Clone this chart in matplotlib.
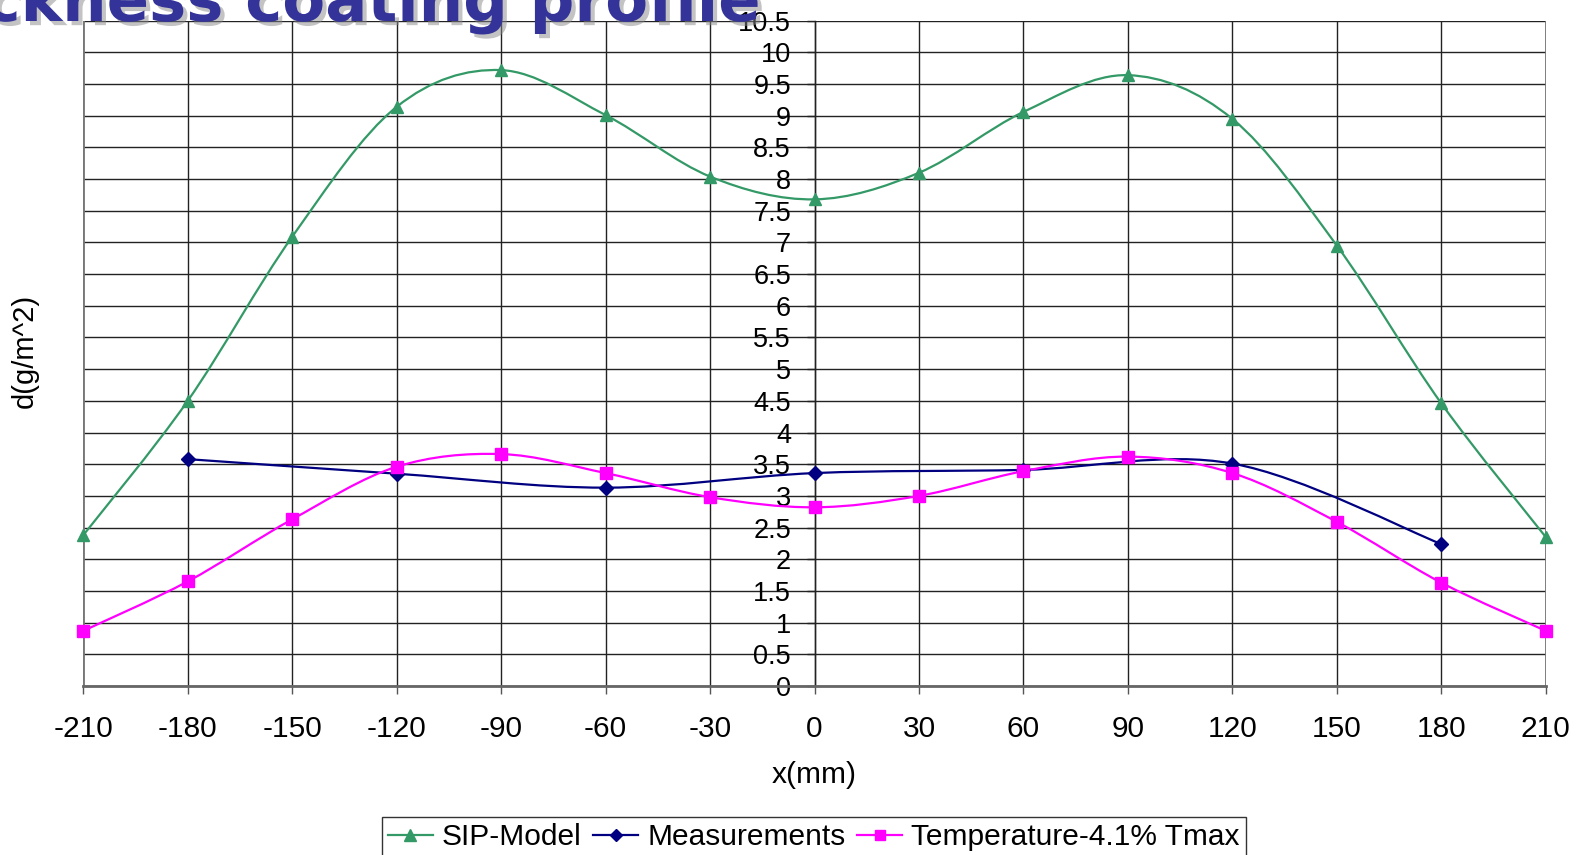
import matplotlib
matplotlib.use("Agg")
import matplotlib.pyplot as plt
import matplotlib.patheffects as pe
from matplotlib.path import Path
from matplotlib.patches import PathPatch
from matplotlib.lines import Line2D

plt.rcParams['font.family'] = ['Liberation Sans', 'DejaVu Sans']
plt.rcParams['axes.unicode_minus'] = False

# coating thickness along the strip, g/m^2
x_model = [-210, -180, -150, -120, -90, -60, -30, 0, 30, 60, 90, 120, 150, 180, 210]
sip_model = [2.38, 4.50, 7.09, 9.14, 9.72, 9.01, 8.04, 7.68, 8.10, 9.06, 9.64, 8.95, 6.95, 4.46, 2.35]

x_meas = [-180, -120, -60, 0, 60, 120, 180]
measurements = [3.58, 3.35, 3.13, 3.36, 3.41, 3.51, 2.24]

x_temp = [-210, -180, -150, -120, -90, -60, -30, 0, 30, 60, 90, 120, 150, 180, 210]
temperature = [0.87, 1.65, 2.63, 3.46, 3.66, 3.36, 2.98, 2.82, 3.00, 3.39, 3.62, 3.36, 2.59, 1.63, 0.87]

x_ticks = list(range(-210, 211, 30))
y_ticks = [i * 0.5 for i in range(22)]


def smooth_path(xs, ys):
    # spreadsheet-style smoothed line: cubic bezier through every point
    pts = list(zip(xs, ys))
    n = len(pts)
    verts = [pts[0]]
    codes = [Path.MOVETO]
    for i in range(n - 1):
        p0 = pts[i - 1] if i > 0 else pts[i]
        p1 = pts[i]
        p2 = pts[i + 1]
        p3 = pts[i + 2] if i + 2 < n else pts[i + 1]
        c1 = (p1[0] + (p2[0] - p0[0]) / 6, p1[1] + (p2[1] - p0[1]) / 6)
        c2 = (p2[0] - (p3[0] - p1[0]) / 6, p2[1] - (p3[1] - p1[1]) / 6)
        verts += [c1, c2, p2]
        codes += [Path.CURVE4] * 3
    return Path(verts, codes)


series = [
    ("SIP-Model", x_model, sip_model, "#339966", "^", 9),
    ("Measurements", x_meas, measurements, "#000080", "D", 7),
    ("Temperature-4.1% Tmax", x_temp, temperature, "#FF00FF", "s", 8),
]

fig = plt.figure(figsize=(15.77, 8.55), dpi=100)
ax = fig.add_axes([0.0528, 0.1977, 0.9274, 0.7781])

handles = []
for label, xs, ys, color, marker, ms in series:
    ax.add_patch(PathPatch(smooth_path(xs, ys), fill=False, edgecolor=color, lw=1.6, zorder=3))
    ax.plot(xs, ys, ls='none', marker=marker, ms=ms, color=color, zorder=4, clip_on=False)
    handles.append(Line2D([], [], color=color, lw=1.6, marker=marker, ms=ms - 1, label=label))

ax.set_xlim(-210, 210)
ax.set_ylim(0, 10.5)
ax.set_xticks(x_ticks)
ax.set_yticks(y_ticks)
ax.set_yticklabels(['{:g}'.format(v) for v in y_ticks])
ax.grid(True, color='#222222', lw=1.0)
ax.set_axisbelow(True)

ax.spines['left'].set_position(('data', 0))
ax.spines['left'].set_color('#222222')
ax.spines['left'].set_linewidth(1.0)
ax.spines['top'].set_visible(False)
ax.spines['right'].set_visible(False)
ax.spines['bottom'].set_color('#666666')
ax.spines['bottom'].set_linewidth(2.0)
ax.axvline(-210, color='#777777', lw=2.0, zorder=1)
ax.axvline(210, color='#777777', lw=2.0, zorder=1)

ax.tick_params(axis='x', length=6, width=1, color='#555555', pad=15, labelsize=21.5)
ax.tick_params(axis='y', length=6, width=1, color='#222222', pad=11, labelsize=19.5)

fig.text(25 / 1577, 1 - 351 / 855, 'd(g/m^2)', rotation=90, ha='center', va='center', fontsize=21)
fig.text(814 / 1577, 1 - 775 / 855, 'x(mm)', ha='center', va='center', fontsize=21.5)

fig.text(760 / 1577, 1 - 21 / 855, 'Thickness coating profile', ha='right', va='baseline',
         fontsize=45, fontweight='bold', color='#333399', family='DejaVu Sans',
         path_effects=[pe.withSimplePatchShadow(offset=(3, -3), shadow_rgbFace='#888888', alpha=0.5)])

leg = fig.legend(handles=handles, loc='upper left', bbox_to_anchor=(382 / 1577, 1 - 817 / 855),
                 ncol=3, fontsize=21.5, frameon=True, fancybox=False, edgecolor='black',
                 handlelength=1.5, handletextpad=0.3, columnspacing=0.4, borderpad=0.2,
                 borderaxespad=0)
leg.get_frame().set_linewidth(1.0)

fig.savefig("out.png", dpi=100)
